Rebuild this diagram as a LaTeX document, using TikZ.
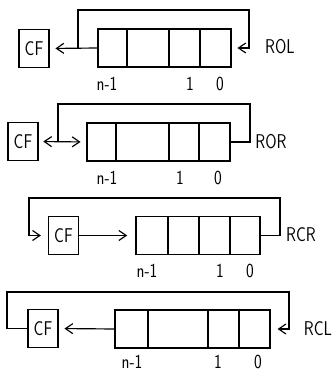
\documentclass[tikz,border=0pt]{standalone}
\usepackage{graphicx}
\usetikzlibrary{arrows.meta}

\newcommand{\narrowtext}[1]{\scalebox{0.82}[1]{#1}}

\begin{document}
\begin{tikzpicture}[x=0.03cm, y=-0.03cm, line width=1pt,
	every node/.style={font=\fontsize{17}{19}\selectfont\sffamily},
	>={Straight Barb[length=2.2mm, width=3mm]},
	cfbox/.style={draw, minimum width=0.9cm, minimum height=1.14cm, inner sep=0pt},
	regbox/.style={draw, minimum height=1.14cm, inner sep=0pt}]
	\useasboundingbox (0,0) rectangle (333,371);
	\node[cfbox] (cf1) at (34,48.5) {\narrowtext{CF}};
	\node[regbox, minimum width=3.99cm] (reg1) at (164.5,48) {};
	\foreach \x in {127,169,200} \draw (\x,29) -- (\x,67);
	\coordinate (top1w) at (78,10);
	\coordinate (top1e) at (249,10);
	\draw[->, shorten >=5pt] (reg1.west) -- (cf1.east);
	\draw[->, shorten >=5pt] (top1w |- reg1.west) -- (top1w) -- (top1e) -- (top1e |- reg1.east) -- (reg1.east);
	\node (rol) at (280,47) {\narrowtext{ROL}};
	\node (bit1n) at (107,84) {\narrowtext{n-1}};
	\node (bit1one) at (190,84) {\narrowtext{1}};
	\node (bit1zero) at (220,84) {\narrowtext{0}};

	\node[cfbox] (cf2) at (23,141.5) {\narrowtext{CF}};
	\node[regbox, minimum width=4.29cm] (reg2) at (158.5,142) {};
	\foreach \x in {116,169,199} \draw (\x,123) -- (\x,161);
	\coordinate (top2w) at (58,104);
	\coordinate (top2e) at (250,104);
	\draw[<->, shorten <=4pt, shorten >=5pt] (cf2.east) -- (reg2.west);
	\draw (reg2.east) -- (top2e |- reg2.east) -- (top2e) -- (top2w) -- (top2w |- reg2.west);
	\node (ror) at (271,142) {\narrowtext{ROR}};
	\node (bit2n) at (107,178) {\narrowtext{n-1}};
	\node (bit2one) at (180,178) {\narrowtext{1}};
	\node (bit2zero) at (218,178) {\narrowtext{0}};

	\node[cfbox] (cf3) at (63.5,235.5) {\narrowtext{CF}};
	\node[regbox, minimum width=3.72cm] (reg3) at (198,235.5) {};
	\foreach \x in {168,199,230} \draw (\x,217) -- (\x,254);
	\coordinate (top3w) at (29,198);
	\coordinate (top3e) at (280,198);
	\draw[->, shorten >=7pt] (cf3.east) -- (reg3.west);
	\draw[->, shorten >=6pt] (reg3.east) -- (top3e |- reg3.east) -- (top3e) -- (top3w) -- (top3w |- cf3.west) -- (cf3.west);
	\node (rcr) at (301,235) {\narrowtext{RCR}};
	\node (bit3n) at (147,271) {\narrowtext{n-1}};
	\node (bit3one) at (220,271) {\narrowtext{1}};
	\node (bit3zero) at (250,271) {\narrowtext{0}};

	\node[cfbox] (cf4) at (43,328.5) {\narrowtext{CF}};
	\node[regbox, minimum width=4.65cm] (reg4) at (192.5,329) {};
	\foreach \x in {148,208,239} \draw (\x,310) -- (\x,348);
	\coordinate (top4w) at (7,292);
	\coordinate (top4e) at (289,292);
	\draw[->, shorten >=5pt] (reg4.west) -- (cf4.east);
	\draw[->, shorten >=6pt] (cf4.west) -- (top4w |- cf4.west) -- (top4w) -- (top4e) -- (top4e |- reg4.east) -- (reg4.east);
	\node (rcl) at (318,329) {\narrowtext{RCL}};
	\node (bit4n) at (132,362) {\narrowtext{n-1}};
	\node (bit4one) at (218,362) {\narrowtext{1}};
	\node (bit4zero) at (258,362) {\narrowtext{0}};
\end{tikzpicture}
\end{document}
